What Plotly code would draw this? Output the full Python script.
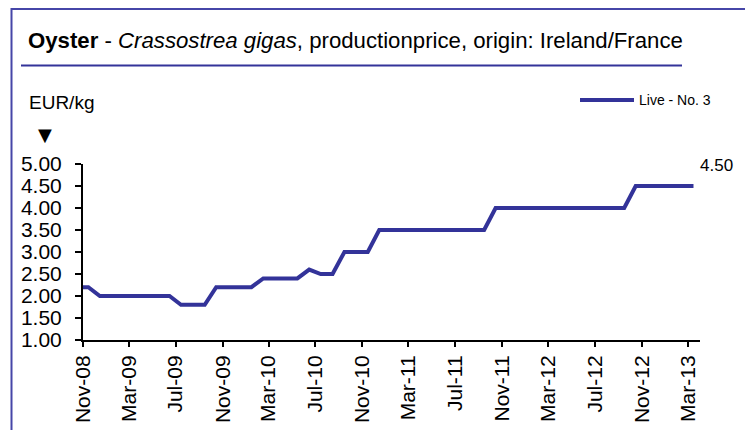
import pandas as pd
import plotly.graph_objects as go

# monthly production price, Live - No. 3 (EUR/kg), Oct-08 .. Mar-13
price = [2.20, 2.20, 2.00, 2.00, 2.00, 2.00, 2.00, 2.00, 2.00,
         1.80, 1.80, 1.80, 2.20, 2.20, 2.20, 2.20,
         2.40, 2.40, 2.40, 2.40, 2.60, 2.50, 2.50,
         3.00, 3.00, 3.00,
         3.50, 3.50, 3.50, 3.50, 3.50, 3.50, 3.50, 3.50, 3.50, 3.50,
         4.00, 4.00, 4.00, 4.00, 4.00, 4.00, 4.00, 4.00, 4.00, 4.00, 4.00, 4.00,
         4.50, 4.50, 4.50, 4.50, 4.50, 4.50]
# mid-month points
months = pd.date_range("2008-10-01", periods=len(price), freq="MS") + pd.Timedelta(days=14)

tick_labels = ["Nov-08", "Mar-09", "Jul-09", "Nov-09", "Mar-10", "Jul-10", "Nov-10",
               "Mar-11", "Jul-11", "Nov-11", "Mar-12", "Jul-12", "Nov-12", "Mar-13"]
tick_dates = pd.date_range("2008-11-01", periods=len(tick_labels), freq="4MS")

series_name = "Live - No. 3"
unit_label = "EUR/kg"
title_html = "<b>Oyster</b> - <i>Crassostrea gigas</i>, productionprice, origin: Ireland/France"

BLUE = "#333399"
FONT = "Liberation Sans, Arial, sans-serif"

# page body has an 8px margin, so the figure is shrunk and shifted to fit the window
OFF = 8
W, H = 753 - OFF, 430 - OFF
ML, MT = 83 - OFF, 164 - OFF
MR, MB = W - (700 - OFF), H - (340 - OFF)
PW, PH = W - ML - MR, H - MT - MB


# window pixel -> paper coordinates helpers
def px(x):
    return (x - OFF - ML) / PW


def py(y):
    return 1 - (y - OFF - MT) / PH


fig = go.Figure()
fig.add_trace(go.Scatter(x=months, y=price, mode="lines",
                         line=dict(color=BLUE, width=4), name=series_name,
                         showlegend=False))

# last value label
fig.add_annotation(x=months[-1], y=price[-1], xref="x", yref="y",
                   text=f"{price[-1]:.2f}", showarrow=False,
                   xanchor="left", yanchor="middle", xshift=5, yshift=21,
                   font=dict(size=17, color="black", family=FONT))

# title + underline
fig.add_annotation(x=px(26), y=py(40), xref="paper", yref="paper",
                   text=title_html, showarrow=False, xanchor="left", yanchor="middle",
                   font=dict(size=22.2, color="black", family=FONT))
fig.add_shape(type="line", xref="paper", yref="paper",
              x0=px(21), x1=px(682), y0=py(65.5), y1=py(65.5),
              line=dict(color=BLUE, width=2))

# outer frame
fig.add_shape(type="rect", xref="paper", yref="paper",
              x0=px(11.5), x1=px(747.3), y0=py(9), y1=py(445),
              line=dict(color="#4646a8", width=2))

# unit label and arrow
fig.add_annotation(x=px(27), y=py(103), xref="paper", yref="paper",
                   text=unit_label, showarrow=False, xanchor="left", yanchor="middle",
                   font=dict(size=19, color="black", family=FONT))
fig.add_annotation(x=px(45), y=py(134), xref="paper", yref="paper",
                   text="▼", showarrow=False, xanchor="center", yanchor="middle",
                   font=dict(size=18, color="black", family="DejaVu Sans"))

# legend drawn by hand
fig.add_shape(type="line", xref="paper", yref="paper",
              x0=px(580), x1=px(634), y0=py(100), y1=py(100),
              line=dict(color=BLUE, width=4))
fig.add_annotation(x=px(637), y=py(100), xref="paper", yref="paper",
                   text=series_name, showarrow=False, xanchor="left", yanchor="middle",
                   font=dict(size=14, color="black", family=FONT))

fig.update_xaxes(type="date", range=["2008-11-01", "2013-04-01"],
                 tickvals=tick_dates, ticktext=tick_labels, tickangle=-90,
                 showline=True, linecolor="black", linewidth=2,
                 ticks="outside", ticklen=5, tickwidth=2, tickcolor="black",
                 showgrid=False, zeroline=False, automargin=False,
                 tickfont=dict(size=21, color="black", family=FONT))
fig.update_yaxes(range=[1, 5], dtick=0.5, tickformat=".2f",
                 showline=True, linecolor="black", linewidth=2,
                 ticks="outside", ticklen=6, tickwidth=2, tickcolor="black",
                 ticklabelstandoff=9,
                 showgrid=False, zeroline=False, automargin=False,
                 tickfont=dict(size=21, color="black", family=FONT))

fig.update_layout(width=W, height=H, autosize=False,
                  margin=dict(l=ML, r=MR, t=MT, b=MB),
                  plot_bgcolor="white", paper_bgcolor="white",
                  showlegend=False)

fig.write_html("out.html")
